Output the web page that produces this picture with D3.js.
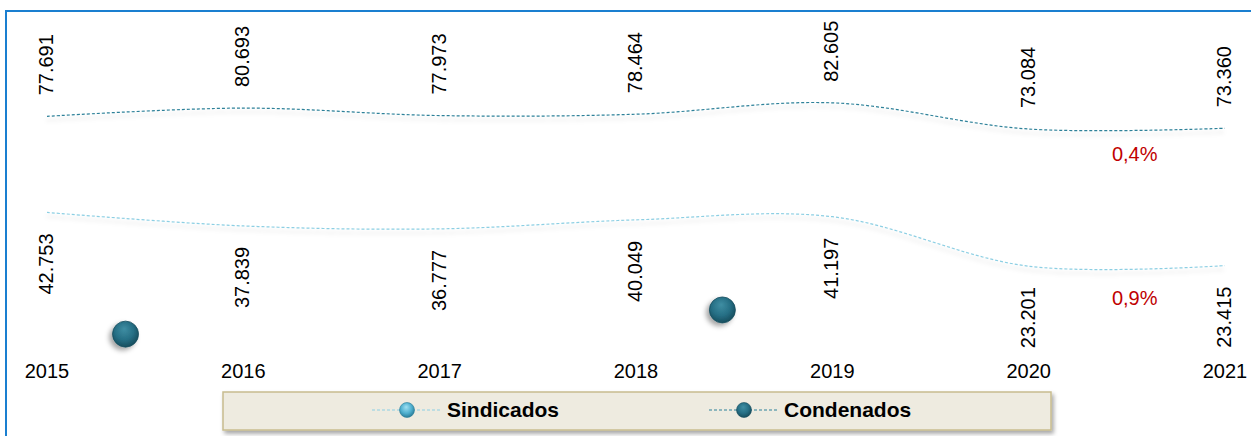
<!DOCTYPE html>
<html>
<head>
<meta charset="utf-8">
<script src="https://cdn.jsdelivr.net/npm/d3@7"></script>
<style>
  body { margin: 0; background: #fff; }
  svg { display: block; font-family: "Liberation Sans", Arial, sans-serif; }
</style>
</head>
<body>
<svg></svg>
<script>
// chart data
const years = ["2015", "2016", "2017", "2018", "2019", "2020", "2021"];
const condenados = [77691, 80693, 77973, 78464, 82605, 73084, 73360];
const sindicados = [42753, 37839, 36777, 40049, 41197, 23201, 23415];
// stray markers left on the sheet: [year index, value]
const strayMarkers = [[0.4, -1500], [3.44, 7300]];

const width = 1251, height = 436;
const margin = { top: 55, bottom: 106, left: 47, right: 26 };

const svg = d3.select("svg")
    .attr("width", width)
    .attr("height", height);

const defs = svg.append("defs");

// soft shadow under the lines
const lineShadow = defs.append("filter").attr("id", "lineShadow")
    .attr("x", "-5%").attr("y", "-50%").attr("width", "110%").attr("height", "300%");
lineShadow.append("feDropShadow")
    .attr("dx", 0).attr("dy", 4).attr("stdDeviation", 2)
    .attr("flood-color", "#000").attr("flood-opacity", 0.18);

const markerShadow = defs.append("filter").attr("id", "markerShadow")
    .attr("x", "-60%").attr("y", "-60%").attr("width", "220%").attr("height", "220%");
markerShadow.append("feDropShadow")
    .attr("dx", -3).attr("dy", 3).attr("stdDeviation", 2.5)
    .attr("flood-color", "#000").attr("flood-opacity", 0.35);

const boxShadow = defs.append("filter").attr("id", "boxShadow")
    .attr("x", "-5%").attr("y", "-30%").attr("width", "110%").attr("height", "170%");
boxShadow.append("feDropShadow")
    .attr("dx", 2).attr("dy", 3).attr("stdDeviation", 2)
    .attr("flood-color", "#000").attr("flood-opacity", 0.35);

// sphere gradients
function sphere(id, light, mid, dark) {
  const g = defs.append("radialGradient").attr("id", id)
      .attr("cx", "45%").attr("cy", "40%").attr("r", "60%").attr("fx", "45%").attr("fy", "30%");
  g.append("stop").attr("offset", "0%").attr("stop-color", light);
  g.append("stop").attr("offset", "60%").attr("stop-color", mid);
  g.append("stop").attr("offset", "100%").attr("stop-color", dark);
}
sphere("sphereSind", "#9fe0f2", "#4fb0cf", "#2a7d99");
sphere("sphereCond", "#3f8ea3", "#266f85", "#174e5e");

// outer border
svg.append("rect")
    .attr("x", 6).attr("y", 11)
    .attr("width", width + 10).attr("height", height + 10)
    .attr("fill", "none")
    .attr("stroke", "#1a7fd0")
    .attr("stroke-width", 2);

const xScale = d3.scaleLinear()
    .domain([0, years.length - 1])
    .range([margin.left, width - margin.right]);
const yScale = d3.scaleLinear()
    .domain([0, 100000])
    .range([height - margin.bottom, margin.top]);

const fmt = d3.formatLocale({ decimal: ",", thousands: ".", grouping: [3], currency: ["", "€"] });
const numFmt = fmt.format(",d");
const pctFmt = fmt.format(".1%");

const line = d3.line()
    .x((d, i) => xScale(i))
    .y(d => yScale(d))
    .curve(d3.curveCatmullRom.alpha(0.5));

const series = [
  { name: "Sindicados", values: sindicados, color: "#8ccfe3", fill: "url(#sphereSind)", labelSide: 1, pctOffset: 39 },
  { name: "Condenados", values: condenados, color: "#2d8199", fill: "url(#sphereCond)", labelSide: -1, pctOffset: 32 }
];

series.forEach(s => {
  svg.append("path")
      .datum(s.values)
      .attr("fill", "none")
      .attr("stroke", s.color)
      .attr("stroke-width", 1.2)
      .attr("stroke-dasharray", "3,2")
      .attr("filter", "url(#lineShadow)")
      .attr("d", line);

  // rotated value labels
  svg.selectAll(null)
      .data(s.values)
      .join("text")
      .attr("transform", (d, i) => {
        const y = yScale(d) + s.labelSide * 21;
        return `translate(${xScale(i) + 6},${y}) rotate(-90)`;
      })
      .attr("text-anchor", s.labelSide < 0 ? "start" : "end")
      .attr("font-size", 20)
      .attr("fill", "#000")
      .text(d => numFmt(d));

  // variation of the last year
  const n = s.values.length;
  const change = s.values[n - 1] / s.values[n - 2] - 1;
  svg.append("text")
      .attr("x", xScale(n - 1.46))
      .attr("y", yScale((s.values[n - 1] + s.values[n - 2]) / 2) + s.pctOffset)
      .attr("text-anchor", "middle")
      .attr("font-size", 20)
      .attr("fill", "#c00000")
      .text(pctFmt(change));
});

// stray markers
svg.selectAll(null)
    .data(strayMarkers)
    .join("circle")
    .attr("cx", d => xScale(d[0]))
    .attr("cy", d => yScale(d[1]))
    .attr("r", 13)
    .attr("fill", "url(#sphereCond)")
    .attr("stroke", "#174e5e")
    .attr("stroke-width", 0.8)
    .attr("filter", "url(#markerShadow)");

// year labels
svg.selectAll(null)
    .data(years)
    .join("text")
    .attr("x", (d, i) => xScale(i))
    .attr("y", 378)
    .attr("text-anchor", "middle")
    .attr("font-size", 20)
    .attr("fill", "#000")
    .text(d => d);

// legend
const legend = svg.append("g");
legend.append("rect")
    .attr("x", 223).attr("y", 392)
    .attr("width", 828).attr("height", 38)
    .attr("fill", "#eeebe0")
    .attr("stroke", "#c8bc8f")
    .attr("stroke-width", 1.5)
    .attr("filter", "url(#boxShadow)");

const legendX = [407, 744];
series.forEach((s, i) => {
  const g = legend.append("g").attr("transform", `translate(${legendX[i]},410)`);
  g.append("line")
      .attr("x1", -35).attr("x2", 35)
      .attr("stroke", s.color)
      .attr("stroke-width", 1.2)
      .attr("stroke-dasharray", "3,2");
  g.append("circle")
      .attr("r", 7.5)
      .attr("fill", s.fill)
      .attr("stroke", i ? "#174e5e" : "#2a7d99")
      .attr("stroke-width", 0.6);
  g.append("text")
      .attr("x", 40).attr("y", 7)
      .attr("font-size", 21)
      .attr("font-weight", "bold")
      .attr("fill", "#000")
      .text(s.name);
});
</script>
</body>
</html>
